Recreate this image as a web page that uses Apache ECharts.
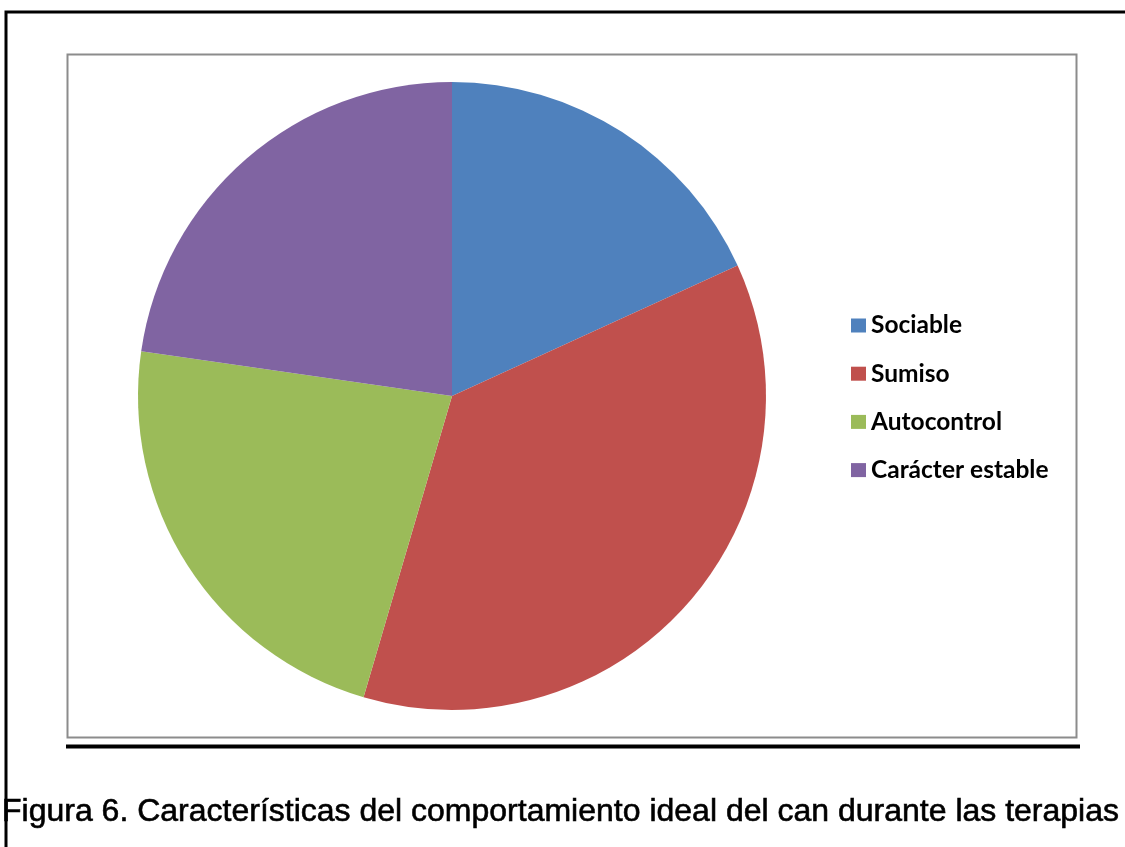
<!DOCTYPE html>
<html><head><meta charset="utf-8">
<script src="https://cdn.jsdelivr.net/npm/echarts@6/dist/echarts.min.js"></script>
<style>html,body{margin:0;padding:0;background:#fff}#c{width:1125px;height:847px}</style>
</head><body><div id="c"></div>
<script>
const categories = ['Sociable', 'Sumiso', 'Autocontrol', 'Carácter estable'];
const values = [8, 16, 10, 10];
const colors = ['#4F81BD', '#C0504D', '#9BBB59', '#8064A2'];
const caption = 'Figura 6. Características del comportamiento ideal del can durante las terapias';

const chart = echarts.init(document.getElementById('c'), null, {renderer: 'canvas'});
chart.setOption({
  backgroundColor: '#fff',
  animation: false,
  title: {
    text: caption, left: -3, top: 791,
    textStyle: {fontFamily: 'Liberation Sans, Arial', fontSize: 32, fontWeight: 'normal', color: '#000',
      textBorderColor: '#000', textBorderWidth: 0.6}
  },
  legend: {
    orient: 'vertical', left: 846, top: 308,
    itemWidth: 15, itemHeight: 14, itemGap: 23.2, icon: 'rect',
    textStyle: {fontFamily: 'Lato, Open Sans', fontSize: 24.5, lineHeight: 24, fontWeight: 'bold', color: '#000'},
    data: categories
  },
  graphic: [
    {type: 'rect', shape: {x: 6, y: 12, width: 1130, height: 900}, style: {fill: 'none', stroke: '#000', lineWidth: 3}, silent: true},
    {type: 'rect', shape: {x: 67.5, y: 54.5, width: 1009, height: 683}, style: {fill: 'none', stroke: '#8c8c8c', lineWidth: 2}, silent: true},
    {type: 'line', shape: {x1: 66, y1: 746.5, x2: 1080, y2: 746.5}, style: {stroke: '#000', lineWidth: 4}, silent: true}
  ],
  series: [{
    type: 'pie', center: [452, 396], radius: 314, startAngle: 90, clockwise: true,
    label: {show: false}, labelLine: {show: false},
    itemStyle: {borderWidth: 0},
    emphasis: {disabled: true},
    data: categories.map((n, i) => ({name: n, value: values[i], itemStyle: {color: colors[i]}}))
  }]
});
</script></body></html>
